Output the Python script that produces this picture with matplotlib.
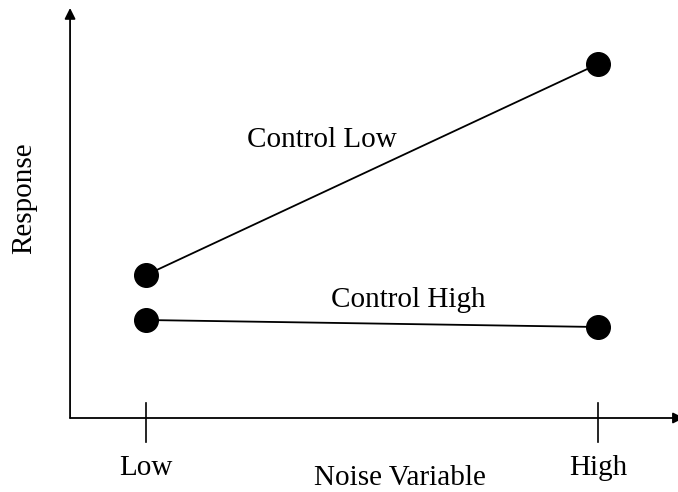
import numpy as np
import matplotlib
matplotlib.use("Agg")
import matplotlib.pyplot as plt

plt.rcParams['font.family'] = ['Liberation Serif', 'DejaVu Serif']

# data
levels = ["Low", "High"]
noise_pos = [0, 1]
control_low = [1.43, 3.54]
control_high = [0.98, 0.91]

fig = plt.figure(figsize=(6.78, 4.92), dpi=100)
ax = fig.add_axes([0, 0, 1, 1])
ax.set_xlim(-0.323, 1.177)
ax.set_ylim(-0.74, 4.18)
ax.axis('off')

x_axis = -0.168
# axes with arrows
ax.annotate('', xy=(x_axis, 4.10), xytext=(x_axis, 0), annotation_clip=False,
            arrowprops=dict(arrowstyle='-|>', color='black', lw=1.3,
                            mutation_scale=16, shrinkA=0, shrinkB=0))
ax.annotate('', xy=(1.19, 0), xytext=(x_axis, 0), annotation_clip=False,
            arrowprops=dict(arrowstyle='-|>', color='black', lw=1.3,
                            mutation_scale=16, shrinkA=0, shrinkB=0))

# ticks crossing the x axis
for xp in noise_pos:
    ax.plot([xp, xp], [0.15, -0.24], color='black', lw=1.2)

ax.plot(noise_pos, control_low, color='black', lw=1.3, marker='o',
        markersize=17, markerfacecolor='black')
ax.plot(noise_pos, control_high, color='black', lw=1.3, marker='o',
        markersize=17, markerfacecolor='black')

fs = 21
ax.text(0.390, 2.78, "Control Low", ha='center', va='center', fontsize=fs)
ax.text(0.58, 1.18, "Control High", ha='center', va='center', fontsize=fs)
for xp, lab in zip(noise_pos, levels):
    ax.text(xp, -0.50, lab, ha='center', va='center', fontsize=fs)
ax.text(0.562, -0.60, "Noise Variable", ha='center', va='center', fontsize=fs)
ax.text(-0.270, 2.20, "Response", ha='center', va='center', fontsize=fs,
        rotation=90)

fig.savefig("out.png", dpi=100)
